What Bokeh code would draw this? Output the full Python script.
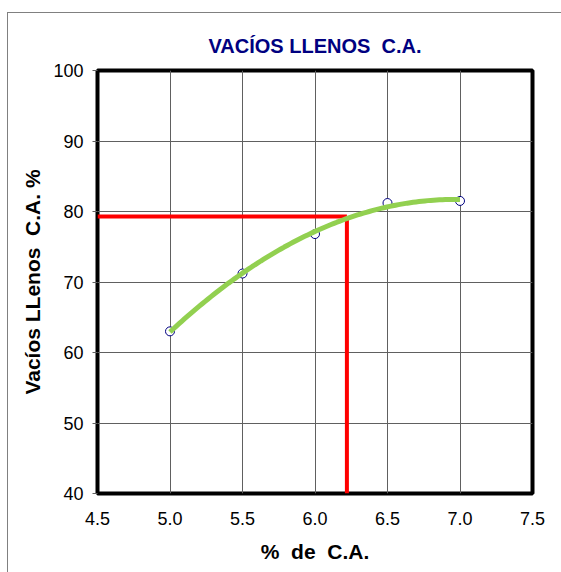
import numpy as np
from bokeh.plotting import figure
from bokeh.models import FixedTicker, Range1d
from bokeh.embed import file_html
from bokeh.resources import INLINE

# data
ca_pct = [5.0, 5.5, 6.0, 6.5, 7.0]
vll = [63.0, 71.2, 76.8, 81.2, 81.5]
opt_ca = 6.22
opt_vll = 79.3
x_ticks = [4.5, 5.0, 5.5, 6.0, 6.5, 7.0, 7.5]
y_ticks = [40, 50, 60, 70, 80, 90, 100]

# quadratic trendline fitted to the measured points
coef = np.polyfit(ca_pct, vll, 2)
xs = np.linspace(min(ca_pct), max(ca_pct), 100)
ys = np.polyval(coef, xs)

p = figure(width=561, height=572, output_backend="svg", toolbar_location=None,
           x_range=Range1d(4.5, 7.5), y_range=Range1d(40, 100),
           min_border_left=97, min_border_right=29, min_border_top=70, min_border_bottom=79)

# outer chart-area frame (thin gray line at left and top)
p.border_fill_color = None
p.background_fill_color = "white"
p.styles = {
    "background-color": "white",
    "background-image": "linear-gradient(#808080,#808080), linear-gradient(#808080,#808080)",
    "background-size": "1px 100%, 100% 1px",
    "background-position": "7px 12px, 7px 12px",
    "background-repeat": "no-repeat",
}

p.title.text = "VACÍOS LLENOS \u00a0C.A."
p.title.align = "center"
p.title.text_font = "Liberation Sans"
p.title.text_font_size = "20px"
p.title.text_font_style = "bold"
p.title.text_color = "#000080"
p.title.offset = 0
p.title.standoff = 28

p.outline_line_color = "black"
p.outline_line_width = 4

for ax in (p.xaxis[0], p.yaxis[0]):
    ax.axis_line_color = None
    ax.minor_tick_line_color = None
    ax.major_label_text_font = "Liberation Sans"
    ax.major_label_text_font_size = "18px"
    ax.major_label_text_color = "black"
    ax.axis_label_text_font = "Liberation Sans"
    ax.axis_label_text_font_size = "21px"
    ax.axis_label_text_font_style = "bold"
    ax.axis_label_text_color = "black"

p.xaxis.ticker = FixedTicker(ticks=x_ticks)
p.yaxis.ticker = FixedTicker(ticks=y_ticks)
p.xaxis.major_label_overrides = {t: f"{t:.1f}" for t in x_ticks}
p.xaxis.major_tick_out = 0
p.xaxis.major_tick_in = 0
p.xaxis.major_label_standoff = 18
p.xaxis.axis_label = "% \u00a0de \u00a0C.A."
p.xaxis.axis_label_standoff = 12
p.yaxis.major_tick_out = 5
p.yaxis.major_tick_in = 0
p.yaxis.major_tick_line_color = "#606060"
p.yaxis.major_label_standoff = 9
p.yaxis.axis_label = "Vacíos LLenos \u00a0C.A. %"
p.yaxis.axis_label_standoff = 6

p.xgrid.grid_line_color = "#606060"
p.ygrid.grid_line_color = "#606060"
p.xgrid.grid_line_width = 1
p.ygrid.grid_line_width = 1

p.line([4.5, opt_ca], [opt_vll, opt_vll], line_color="#FF0000", line_width=4)
p.line([opt_ca, opt_ca], [40, opt_vll], line_color="#FF0000", line_width=4)

p.scatter(ca_pct, vll, marker="circle", size=9, fill_color="white",
          line_color="#000080", line_width=1)
p.line(xs, ys, line_color="#92D050", line_width=5)

open("out.html", "w").write(file_html(p, INLINE))
